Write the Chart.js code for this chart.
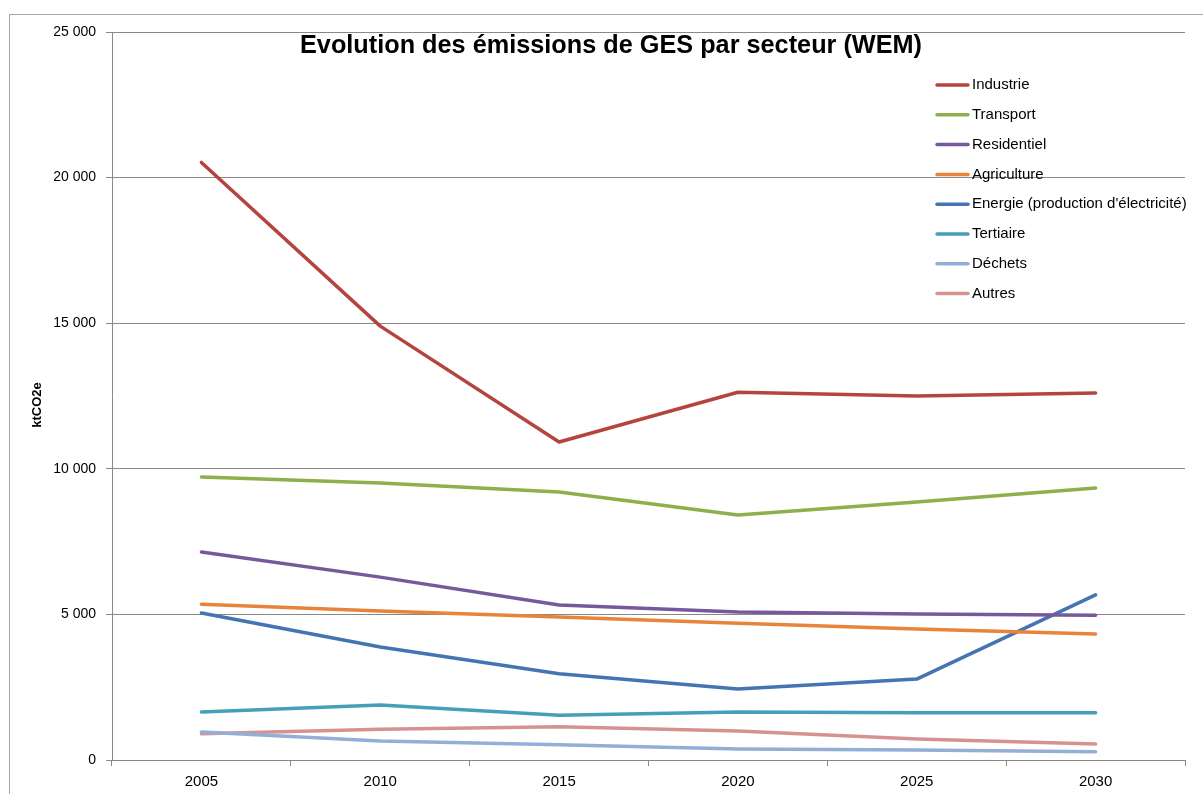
<!DOCTYPE html>
<html>
<head>
<meta charset="utf-8">
<script src="https://cdn.jsdelivr.net/npm/chart.js@4"></script>
<style>
  html, body { margin: 0; padding: 0; background: #fff; }
  canvas { display: block; }
</style>
</head>
<body>
<canvas id="gesChart" width="1203" height="794"></canvas>
<script>
const years = ["2005", "2010", "2015", "2020", "2025", "2030"];
const industrie = [20520, 14900, 10920, 12630, 12500, 12600];
const transport = [9720, 9510, 9200, 8410, 8860, 9340];
const residentiel = [7140, 6280, 5320, 5080, 5010, 4970];
const agriculture = [5350, 5120, 4910, 4700, 4500, 4330];
const energie = [5050, 3880, 2960, 2440, 2780, 5670];
const tertiaire = [1650, 1890, 1540, 1650, 1620, 1620];
const dechets = [960, 650, 520, 380, 340, 280];
const autres = [900, 1060, 1140, 1000, 720, 550];

const seriesNames = ["Industrie", "Transport", "Residentiel", "Agriculture",
  "Energie (production d'électricité)", "Tertiaire", "Déchets", "Autres"];
const seriesValues = [industrie, transport, residentiel, agriculture, energie, tertiaire, dechets, autres];
const seriesColors = ["#B5443F", "#8EAF4B", "#76599B", "#E8843A", "#4474B2", "#43A0B8", "#93AFD6", "#D69291"];

const chartTitle = "Evolution des émissions de GES par secteur (WEM)";
const yTitle = "ktCO2e";
const axisColor = "#888888";
const fontName = "'Liberation Sans', Arial, sans-serif";

const fmt = (v) => String(v).replace(/\B(?=(\d{3})+(?!\d))/g, " ");

// frame, title, y title and in-plot legend (Excel style)
const decorPlugin = {
  id: "decor",
  beforeDraw(chart) {
    const ctx = chart.ctx;
    ctx.save();
    ctx.fillStyle = "#fff";
    ctx.fillRect(0, 0, chart.width, chart.height);
    ctx.strokeStyle = "#a6a6a6";
    ctx.lineWidth = 1;
    ctx.strokeRect(9.5, 14.5, chart.width + 20, chart.height + 20);
    ctx.restore();
  },
  afterDraw(chart) {
    const ctx = chart.ctx;
    ctx.save();
    // title, squeezed a bit to look like Calibri
    ctx.font = "bold 26px " + fontName;
    ctx.fillStyle = "#000";
    ctx.textBaseline = "middle";
    const w = ctx.measureText(chartTitle).width;
    const target = 622;
    ctx.translate(300, 46);
    ctx.scale(target / w, 1);
    ctx.fillText(chartTitle, 0, 0);
    ctx.restore();

    ctx.save();
    ctx.font = "bold 13px " + fontName;
    ctx.fillStyle = "#000";
    ctx.textAlign = "center";
    ctx.textBaseline = "middle";
    ctx.translate(37, 405);
    ctx.rotate(-Math.PI / 2);
    ctx.fillText(yTitle, 0, 0);
    ctx.restore();

    ctx.save();
    ctx.font = "15px " + fontName;
    ctx.textBaseline = "middle";
    chart.data.datasets.forEach((ds, i) => {
      const y = 85 + i * 29.8;
      ctx.strokeStyle = ds.borderColor;
      ctx.lineWidth = 3.5;
      ctx.lineCap = "round";
      ctx.beginPath();
      ctx.moveTo(937, y);
      ctx.lineTo(968, y);
      ctx.stroke();
      ctx.fillStyle = "#000";
      ctx.fillText(ds.label, 972, y);
    });
    ctx.restore();
  },
};

const ctx = document.getElementById("gesChart").getContext("2d");
new Chart(ctx, {
  type: "line",
  data: {
    labels: years,
    datasets: seriesNames.map((name, i) => ({
      label: name,
      data: seriesValues[i],
      borderColor: seriesColors[i],
      backgroundColor: seriesColors[i],
      borderWidth: 3.5,
      pointRadius: 0,
      tension: 0,
      borderCapStyle: "round",
      borderJoinStyle: "round",
      order: i,
    })),
  },
  options: {
    responsive: false,
    devicePixelRatio: 1,
    animation: false,
    layout: { padding: { left: 28, top: 32, right: 18, bottom: 0 } },
    plugins: {
      legend: { display: false },
      title: { display: false },
      tooltip: { enabled: false },
    },
    scales: {
      x: {
        offset: true,
        afterFit: (s) => { s.height = 34; },
        grid: {
          offset: true,
          drawOnChartArea: false,
          drawTicks: true,
          tickLength: 6,
          color: axisColor,
        },
        border: { color: axisColor, width: 1 },
        ticks: {
          color: "#000",
          padding: 7,
          maxRotation: 0,
          font: { family: fontName, size: 15 },
        },
      },
      y: {
        min: 0,
        max: 25000,
        afterFit: (s) => { s.width = 84; },
        grid: {
          color: axisColor,
          drawTicks: true,
          tickLength: 6,
        },
        border: { color: axisColor, width: 1 },
        ticks: {
          stepSize: 5000,
          color: "#000",
          padding: 10,
          font: { family: fontName, size: 14 },
          callback: (v) => fmt(v),
        },
      },
    },
  },
  plugins: [decorPlugin],
});
</script>
</body>
</html>
